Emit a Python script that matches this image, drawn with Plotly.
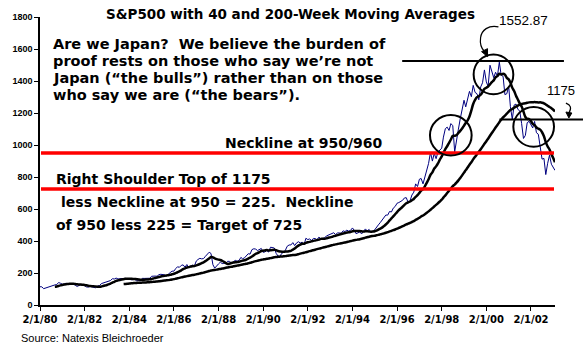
import pandas as pd
import plotly.graph_objects as go

# ---------------- data ----------------
# S&P 500 month-end closes, Jan 1980 .. Feb 2003 (plotted at the 1st of the following month)
sp500_close = [
    114.2, 113.7, 102.1, 106.3, 111.2, 114.2, 121.7, 122.4, 125.5, 127.5, 140.5, 135.8,
    129.6, 131.3, 136.0, 132.8, 132.6, 131.2, 130.9, 122.8, 116.2, 121.9, 126.4, 122.6,
    120.4, 113.1, 112.0, 116.4, 111.9, 109.6, 107.1, 119.5, 120.4, 133.7, 138.5, 140.6,
    145.3, 148.1, 153.0, 164.4, 162.4, 168.1, 162.6, 164.4, 166.1, 163.6, 166.4, 164.9,
    163.4, 157.1, 159.2, 160.1, 150.6, 153.2, 150.7, 166.7, 166.1, 166.1, 163.6, 167.2,
    179.6, 181.2, 180.7, 179.8, 189.6, 191.9, 190.9, 188.6, 182.1, 189.8, 202.2, 211.3,
    211.8, 226.9, 238.9, 235.5, 247.4, 250.8, 236.1, 252.9, 231.3, 244.0, 249.2, 242.2,
    274.1, 284.2, 291.7, 288.4, 290.1, 304.0, 318.7, 329.8, 321.8, 251.8, 230.3, 247.1,
    257.1, 267.8, 258.9, 261.3, 262.2, 273.5, 272.0, 261.5, 271.9, 279.0, 273.7, 277.7,
    297.5, 288.9, 294.9, 309.6, 320.5, 318.0, 346.1, 351.5, 349.2, 340.4, 346.0, 353.4,
    329.1, 331.9, 339.9, 330.8, 361.2, 358.0, 356.2, 322.6, 306.1, 304.0, 322.2, 330.2,
    343.9, 367.1, 375.2, 375.4, 389.8, 371.2, 387.8, 395.4, 387.9, 392.5, 375.2, 417.1,
    408.8, 412.7, 403.7, 415.0, 415.4, 408.1, 424.2, 414.0, 417.8, 418.7, 431.4, 435.7,
    438.8, 443.4, 451.7, 440.2, 450.2, 450.5, 448.1, 463.6, 458.9, 467.8, 461.8, 466.5,
    481.6, 467.1, 445.8, 450.9, 456.5, 444.3, 458.3, 475.5, 462.7, 472.4, 453.7, 459.3,
    470.4, 487.4, 500.7, 514.7, 533.4, 544.8, 562.1, 561.9, 584.4, 581.5, 605.4, 615.9,
    636.0, 640.4, 645.5, 654.2, 669.1, 670.6, 640.0, 652.0, 687.3, 705.3, 757.0, 740.7,
    786.2, 790.8, 757.1, 801.3, 848.3, 885.1, 954.3, 899.5, 947.3, 914.6, 955.4, 970.4,
    980.3, 1049.3, 1101.8, 1111.8, 1090.8, 1133.8, 1120.7, 957.3, 1017.0, 1098.7, 1163.6, 1229.2,
    1279.6, 1238.3, 1286.4, 1335.2, 1301.8, 1372.7, 1328.7, 1320.4, 1282.7, 1362.9, 1388.9, 1469.3,
    1394.5, 1366.4, 1498.6, 1452.4, 1420.6, 1454.6, 1430.8, 1517.7, 1436.5, 1429.4, 1315.0, 1320.3,
    1366.0, 1239.9, 1160.3, 1249.5, 1255.8, 1224.4, 1211.2, 1133.6, 1040.9, 1059.8, 1139.5, 1148.1,
    1130.2, 1106.7, 1147.4, 1076.9, 1067.1, 989.8, 911.6, 916.1, 815.3, 885.8, 936.3, 879.8,
    855.7, 841.2,
]
start_date = "1980-02-01"
short_window_months = 9    # ~40 weeks
long_window_months = 46    # ~200 weeks

tick_dates = ["1980-02-01", "1982-02-01", "1984-02-01", "1986-02-01", "1988-02-01",
              "1990-02-01", "1992-02-01", "1994-02-01", "1996-02-01", "1998-02-01",
              "2000-02-01", "2002-02-01"]
tick_text = ["2/1/80", "2/1/82", "2/1/84", "2/1/86", "2/1/88", "2/1/90",
             "2/1/92", "2/1/94", "2/1/96", "2/1/98", "2/1/00", "2/1/02"]
y_ticks = [0, 200, 400, 600, 800, 1000, 1200, 1400, 1600, 1800]

neckline_level = 950
target_level = 725
top_level = 1525
shoulder_level = 1160

# ---------------- build ----------------
dates = pd.date_range(start_date, periods=len(sp500_close), freq="MS")
s = pd.Series(sp500_close, index=dates)
ma_short = s.rolling(short_window_months).mean()
ma_long = s.rolling(long_window_months).mean()

W, H = 583, 348
L, R, T, B = 36, 28, 14, 43
PW, PH = W - L - R, H - T - B


def PX(x):
    return (x - L) / PW


def PY(y):
    return (H - B - y) / PH


fig = go.Figure()
fig.add_trace(go.Scatter(x=dates, y=s.values, mode="lines",
                         line=dict(color="#000080", width=1), hoverinfo="skip"))
fig.add_trace(go.Scatter(x=dates, y=ma_short.values, mode="lines",
                         line=dict(color="black", width=2.5, shape="spline"), hoverinfo="skip"))
fig.add_trace(go.Scatter(x=dates, y=ma_long.values, mode="lines",
                         line=dict(color="black", width=2.5, shape="spline"), hoverinfo="skip"))

shapes = []
# red neckline / target lines
for lvl in (neckline_level, target_level):
    shapes.append(dict(type="line", xref="paper", yref="y", x0=PX(37), x1=PX(554),
                       y0=lvl, y1=lvl, line=dict(color="#ff0000", width=3.5)))
# black horizontal lines
shapes.append(dict(type="line", xref="paper", yref="y", x0=PX(401), x1=PX(564),
                   y0=top_level, y1=top_level, line=dict(color="black", width=2)))
shapes.append(dict(type="line", xref="paper", yref="y", x0=PX(499), x1=PX(584),
                   y0=shoulder_level, y1=shoulder_level, line=dict(color="black", width=2)))
# circles
for (x0, x1, y0, y1) in [(429, 471, 113, 154), (473, 513, 52, 92), (513, 554, 105, 145)]:
    shapes.append(dict(type="circle", xref="paper", yref="paper",
                       x0=PX(x0), x1=PX(x1), y0=PY(y1), y1=PY(y0),
                       line=dict(color="black", width=2)))


def path(points, cmd):
    parts = []
    for c, pts in zip(cmd, points):
        parts.append(c + " " + " ".join(f"{PX(x):.5f},{PY(y):.5f}" for x, y in pts))
    return " ".join(parts)


# curved arrow from 1552.87
shapes.append(dict(type="path", xref="paper", yref="paper",
                   path=path([[(498, 24)], [(488, 22), (481, 27), (480, 35)],
                              [(479, 42), (481, 46), (484, 49)]], ["M", "C", "C"]),
                   line=dict(color="black", width=1.2)))
shapes.append(dict(type="path", xref="paper", yref="paper",
                   path=path([[(487, 54)], [(481, 49)], [(487, 46)]], ["M", "L", "L"]) + " Z",
                   fillcolor="black", line=dict(color="black", width=1)))
# small arrow from 1175
shapes.append(dict(type="path", xref="paper", yref="paper",
                   path=path([[(566, 101)], [(571, 103), (572, 106), (569, 111)]], ["M", "C"]),
                   line=dict(color="black", width=1.2)))
shapes.append(dict(type="path", xref="paper", yref="paper",
                   path=path([[(569, 116)], [(566, 110)], [(572, 111)]], ["M", "L", "L"]) + " Z",
                   fillcolor="black", line=dict(color="black", width=1)))

bold = "DejaVu Sans"
ann = []


def text(t, x, y, size, family=bold, weight="bold", anchor="left"):
    ann.append(dict(text=t, xref="paper", yref="paper", x=PX(x), y=PY(y),
                    xanchor=anchor, yanchor="middle", showarrow=False,
                    font=dict(family=family, size=size, color="black", weight=weight)))


text("S&P500 with 40 and 200-Week Moving Averages", 101, 11, 13.5)
text("Are we Japan?\u00a0 We believe the burden of", 47, 41, 14.5)
text("proof rests on those who say we\u2019re not", 47, 58.3, 14.5)
text("Japan (\u201cthe bulls\u201d) rather than on those", 47, 75.6, 14.5)
text("who say we are (\u201cthe bears\u201d).", 47, 92.9, 14.5)
text("Neckline at 950/960", 220, 141, 14)
text("Right Shoulder Top of 1175", 50, 178, 14)
text("less Neckline at 950 = 225.\u00a0 Neckline", 55, 201, 14)
text("of 950 less 225 = Target of 725", 50, 224, 14)
text("1552.87", 497, 18, 13.5, family="Liberation Sans", weight="normal")
text("1175", 545, 88, 13, family="Liberation Sans", weight="normal")
text("Source: Natexis Bleichroeder", 15, 338, 11, family="Liberation Sans", weight="normal")

fig.update_layout(
    width=W, height=H, margin=dict(l=L, r=R, t=T, b=B),
    paper_bgcolor="white", plot_bgcolor="white", showlegend=False,
    shapes=shapes, annotations=ann,
    xaxis=dict(type="date", range=[dates[0], dates[-1]], tickvals=tick_dates, ticktext=tick_text,
               ticks="outside", ticklen=4, tickcolor="black", showline=True, linecolor="black",
               linewidth=1.5, showgrid=False, zeroline=False,
               tickfont=dict(family="DejaVu Sans", size=10, color="black", weight="bold")),
    yaxis=dict(range=[0, 1800], tickvals=y_ticks, ticks="outside", ticklen=4, tickcolor="black",
               showline=True, linecolor="black", linewidth=1.5, showgrid=False, zeroline=False,
               tickfont=dict(family="Liberation Sans", size=9, color="black", weight="bold")),
)

fig.write_html("out.html")
